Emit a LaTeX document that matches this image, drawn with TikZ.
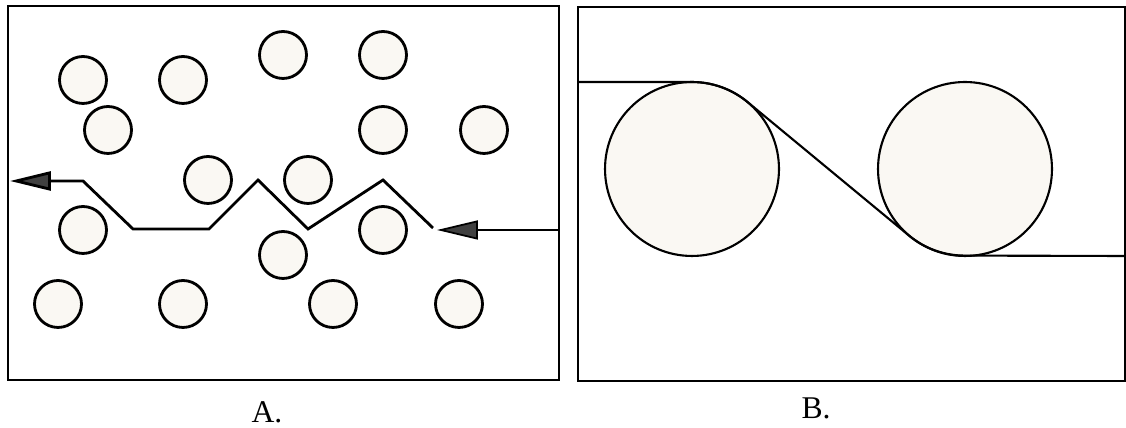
\documentclass[tikz,border=0pt]{standalone}
\usepackage{fontspec}
\setmainfont{Liberation Serif}
\usetikzlibrary{arrows.meta}
\definecolor{grainfill}{HTML}{FAF8F3}
\definecolor{tipgray}{HTML}{404040}

\begin{document}
\begin{tikzpicture}[x=0.02cm,y=0.02cm,
  grain/.style={circle,draw,line width=1.6pt,fill=grainfill,inner sep=0pt,outer sep=0pt,minimum size=0.94cm},
  roll/.style={circle,draw,line width=1.2pt,fill=grainfill,inner sep=0pt,outer sep=0pt,minimum size=3.48cm},
  flowtip/.style={-{Triangle[length=0.82cm,width=0.38cm,fill=tipgray]}},
  caption/.style={anchor=base,font=\fontsize{18}{20}\selectfont}]
\useasboundingbox (0,0) rectangle (1126,428);
\draw[line width=1.1pt] (8,48) rectangle (559,422);
\draw[line width=1.1pt] (578,47) rectangle (1125,421);
\foreach \x/\y [count=\i] in {83/348,183/348,283/373,383/373,108/298,383/298,484/298,
  208/248,308/248,83/198,383/198,283/173,58/124,183/124,333/124,459/124}
  \node[grain] (g\i) at (\x,\y) {};
\foreach \x/\y [count=\i] in {433/200,383/248,308/199,258/248,209/199,133/199,83/247,10/247}
  \coordinate (z\i) at (\x,\y);
\coordinate (entry) at (559,198);
\coordinate (entrytip) at (437,198);
\draw[line width=1pt,flowtip] (entry) -- (entrytip);
\draw[line width=1.6pt,flowtip] (z1) -- (z2) -- (z3) -- (z4) -- (z5) -- (z6) -- (z7) -- (z8);
\node[roll] (r1) at (692,259) {};
\node[roll] (r2) at (965,259) {};
\coordinate (bandin) at (578,346);
\coordinate (bandout) at (1125,172);
\draw[line width=1.2pt] (bandin) -- (r1.north) arc[start angle=90,end angle=50.4,radius=87]
  -- (r2.230.4) arc[start angle=230.4,end angle=270,radius=87] -- (bandout);
\node[caption] (labA) at (267,5) {A.};
\node[caption] (labB) at (816,9) {B.};
\end{tikzpicture}
\end{document}
